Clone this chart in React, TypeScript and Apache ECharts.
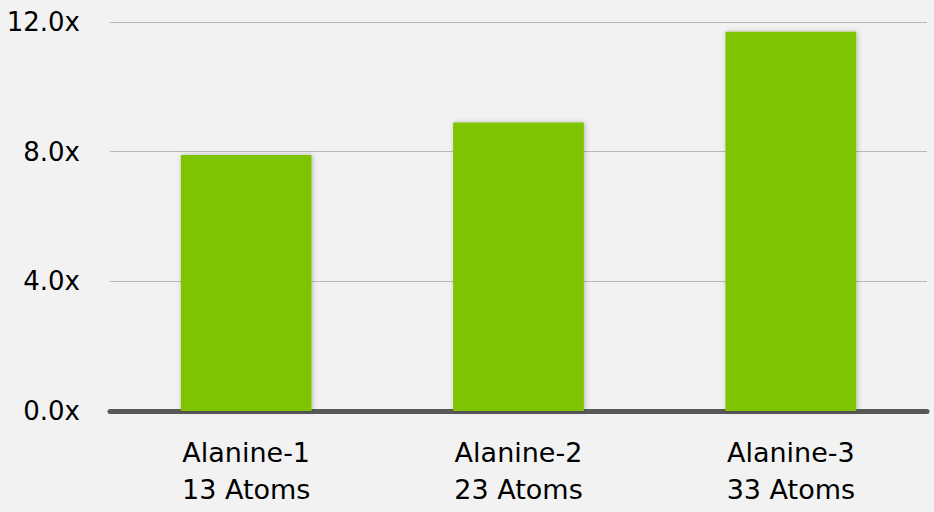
import React, { useEffect, useRef } from "react";
import * as echarts from "echarts";

const categories = ["Alanine-1\n13 Atoms", "Alanine-2\n23 Atoms", "Alanine-3\n33 Atoms"];
const speedups = [7.9, 8.9, 11.7];
const yTicks = [0, 4, 8, 12];

export default function App() {
  const ref = useRef<HTMLDivElement>(null);
  useEffect(() => {
    if (!ref.current) return;
    const chart = echarts.init(ref.current, null, { renderer: "svg" });
    chart.setOption({
      animation: false,
      backgroundColor: "#f2f2f2",
      grid: { left: 110, right: 7, top: 22, bottom: 101, containLabel: false },
      xAxis: {
        type: "category",
        data: categories,
        axisLine: { show: true, lineStyle: { color: "#595959", width: 5 } },
        axisTick: { show: false },
        axisLabel: {
          color: "#000",
          fontFamily: "DejaVu Sans",
          fontSize: 27,
          lineHeight: 37,
          margin: 23,
        },
      },
      yAxis: {
        type: "value",
        min: yTicks[0],
        max: yTicks[yTicks.length - 1],
        interval: 4,
        axisLine: { show: false },
        axisTick: { show: false },
        splitLine: { lineStyle: { color: "#b8b8b8", width: 1 } },
        axisLabel: {
          color: "#000",
          fontFamily: "DejaVu Sans",
          fontSize: 26,
          margin: 30,
          formatter: (v: number) => v.toFixed(1) + "x",
        },
      },
      series: [
        {
          type: "bar",
          data: speedups,
          barWidth: "48%",
          itemStyle: {
            color: "#7fc400",
            shadowBlur: 5,
            shadowColor: "rgba(0,0,0,0.25)",
            shadowOffsetX: 1,
            shadowOffsetY: 0,
          },
        },
      ],
    });
    return () => chart.dispose();
  }, []);
  return (
    <div
      ref={ref}
      style={{ position: "fixed", left: 0, top: 0, width: 934, height: 512 }}
    />
  );
}
